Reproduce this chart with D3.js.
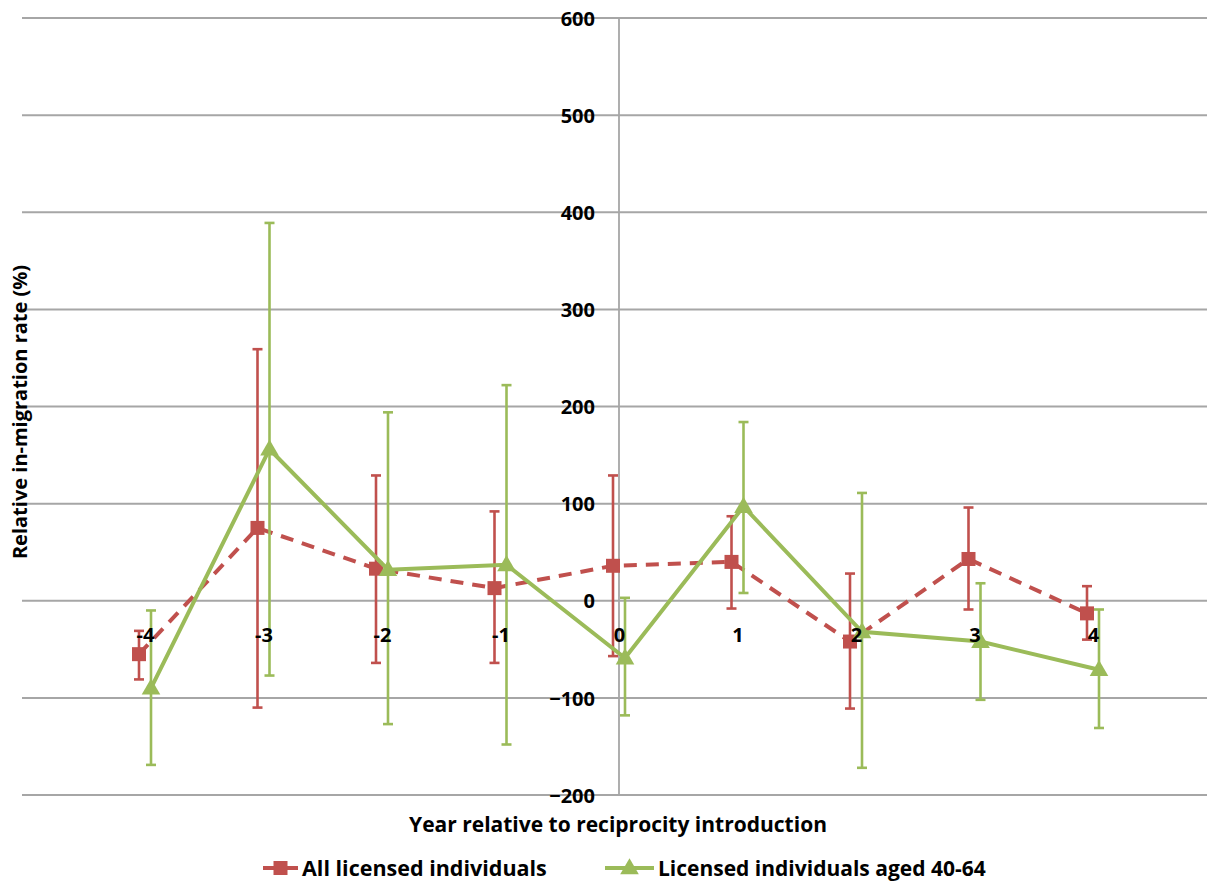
<!DOCTYPE html>
<html>
<head>
<meta charset="utf-8">
<script src="https://cdn.jsdelivr.net/npm/d3@7/dist/d3.min.js"></script>
<style>
  html, body { margin: 0; padding: 0; background: #fff; }
  svg { display: block; }
  text { font-family: "Open Sans", "Liberation Sans", Arial, sans-serif; font-weight: bold; fill: #000; }
</style>
</head>
<body>
<svg id="chart" width="1207" height="884"></svg>
<script>
// Years relative to the introduction of reciprocity
const years = [-4, -3, -2, -1, 0, 1, 2, 3, 4];

// All licensed individuals: relative in-migration rate (%) with confidence bounds
const allMean  = [-55, 75, 33, 13, 36, 40, -42, 43, -13];
const allUpper = [-31, 259, 129, 92, 129, 87, 28, 96, 15];
const allLower = [-81, -110, -64, -64, -57, -8, -111, -9, -40];

// Licensed individuals aged 40-64
const agedMean  = [-90, 156, 32, 37, -59, 97, -32, -42, -71];
const agedUpper = [-10, 389, 194, 222, 3, 184, 111, 18, -9];
const agedLower = [-169, -77, -127, -148, -118, 8, -172, -102, -131];

const yTicks = [-200, -100, 0, 100, 200, 300, 400, 500, 600];

const seriesNames = ["All licensed individuals", "Licensed individuals aged 40-64"];

const series = [
  { name: seriesNames[0], mean: allMean, upper: allUpper, lower: allLower,
    color: "#c0504d", dash: "13,9", marker: "square", shift: -6 },
  { name: seriesNames[1], mean: agedMean, upper: agedUpper, lower: agedLower,
    color: "#9bbb59", dash: null, marker: "triangle", shift: 6 }
];

const svg = d3.select("#chart");
const gridLeft = 22, gridRight = 1207;

const x = d3.scalePoint().domain(years).range([145, 1093]);
const y = d3.scaleLinear().domain([-200, 600]).range([795, 18]);

// Horizontal gridlines
svg.append("g").selectAll("line").data(yTicks).join("line")
  .attr("x1", gridLeft).attr("x2", gridRight)
  .attr("y1", d => y(d)).attr("y2", d => y(d))
  .attr("stroke", "#a6a6a6").attr("stroke-width", 2);

// Vertical value axis crossing at year 0
const axisX = x(0);
svg.append("line")
  .attr("x1", axisX).attr("x2", axisX)
  .attr("y1", y(600)).attr("y2", y(-200))
  .attr("stroke", "#a6a6a6").attr("stroke-width", 1.8);

// Value axis labels
const yAxis = d3.axisLeft(y).tickValues(yTicks).tickSize(0).tickPadding(0);
const yg = svg.append("g").attr("transform", `translate(${axisX - 24},0)`).call(yAxis);
yg.select(".domain").remove();
yg.selectAll("text")
  .attr("font-size", 20).attr("font-family", null).attr("dy", "0.36em");

// Axis titles
svg.append("text")
  .attr("x", 618).attr("y", 824).attr("text-anchor", "middle")
  .attr("dy", "0.36em").attr("font-size", 21)
  .text("Year relative to reciprocity introduction");

svg.append("text")
  .attr("transform", "translate(20,412) rotate(-90)")
  .attr("text-anchor", "middle").attr("dy", "0.36em").attr("font-size", 20)
  .text("Relative in-migration rate (%)");

const triangle = d3.symbol().type(d3.symbolTriangle).size(150);

function drawMarker(g, type, cx, cy, color) {
  if (type === "square") {
    g.append("rect").attr("x", cx - 7).attr("y", cy - 7)
      .attr("width", 14).attr("height", 14).attr("fill", color);
  } else {
    g.append("path").attr("d", triangle)
      .attr("transform", `translate(${cx},${cy + 1})`).attr("fill", color);
  }
}

// Series: error bars, connecting line, markers
series.forEach(s => {
  const g = svg.append("g");
  const px = i => x(years[i]) + s.shift;

  const eb = g.append("g").attr("stroke", s.color).attr("stroke-width", 2.6);
  years.forEach((yr, i) => {
    eb.append("line").attr("x1", px(i)).attr("x2", px(i))
      .attr("y1", y(s.upper[i])).attr("y2", y(s.lower[i]));
    [s.upper[i], s.lower[i]].forEach(v => {
      eb.append("line").attr("x1", px(i) - 5).attr("x2", px(i) + 5)
        .attr("y1", y(v)).attr("y2", y(v));
    });
  });

  const line = d3.line().x((d, i) => px(i)).y(d => y(d));
  g.append("path").datum(s.mean)
    .attr("d", line).attr("fill", "none")
    .attr("stroke", s.color).attr("stroke-width", 4)
    .attr("stroke-dasharray", s.dash);

  s.mean.forEach((v, i) => drawMarker(g, s.marker, px(i), y(v), s.color));
});

// Category labels sit just below the zero line, on top of the series
const xAxis = d3.axisBottom(x).tickSize(0).tickPadding(0);
const xg = svg.append("g").attr("transform", `translate(0,${y(0) + 34})`).call(xAxis);
xg.select(".domain").remove();
xg.selectAll("text")
  .attr("font-size", 20).attr("font-family", null).attr("dy", "0.36em").attr("y", 0);

// Legend
const legendY = 868;
const legendItems = [
  { s: series[0], lx: 263, tx: 302, size: 21.5 },
  { s: series[1], lx: 605, tx: 658, size: 21 }
];
legendItems.forEach(({ s, lx, tx, size }) => {
  const g = svg.append("g");
  g.append("line").attr("x1", lx).attr("x2", tx - 4)
    .attr("y1", legendY).attr("y2", legendY)
    .attr("stroke", s.color).attr("stroke-width", 4);
  drawMarker(g, s.marker, (lx + tx - 4) / 2, legendY, s.color);
  g.append("text").attr("x", tx).attr("y", legendY).attr("dy", "0.36em")
    .attr("font-size", size).text(s.name);
});
</script>
</body>
</html>
